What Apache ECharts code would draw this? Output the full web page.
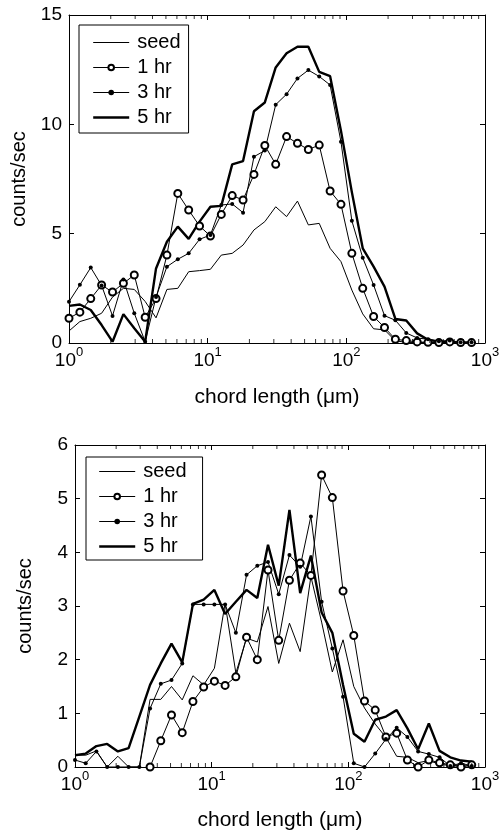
<!DOCTYPE html>
<html>
<head>
<meta charset="utf-8">
<script src="https://cdn.jsdelivr.net/npm/echarts@6/dist/echarts.min.js"></script>
<style>
  html, body { margin: 0; padding: 0; background: #fff; }
  #chart { width: 503px; height: 832px; }
</style>
</head>
<body>
<div id="chart"></div>
<script>
// chord length channels (um), log spaced
const chordLength = [1.000, 1.198, 1.435, 1.719, 2.060, 2.468, 2.956, 3.542, 4.243, 5.083,
  6.090, 7.295, 8.740, 10.47, 12.54, 15.03, 18.00, 21.57, 25.84, 30.95,
  37.08, 44.42, 53.22, 63.76, 76.38, 91.50, 109.6, 131.3, 157.3, 188.5,
  225.8, 270.5, 324.1, 388.2, 465.1, 557.2, 667.5, 799.7]

// top panel
const seedTop = [0.55, 0.98, 1.13, 1.36, 2.1, 2.5, 2.45, 1.9, 1.15, 2.45,
  2.5, 3.26, 3.31, 3.37, 4.02, 4.1, 4.48, 5.17, 5.55, 6.23,
  5.78, 6.49, 5.4, 5.47, 4.33, 3.72, 2.42, 1.33, 0.65, 0.6,
  0.1, 0.03, 0.02, 0.02, 0.02, 0.02, 0.02, 0.02]
const hr1Top = [1.13, 1.41, 2.03, 2.65, 2.33, 2.73, 3.11, 1.18, 2.03, 4.02,
  6.84, 6.08, 5.35, 4.89, 5.88, 6.74, 6.54, 7.71, 9.03, 8.17,
  9.44, 9.13, 8.85, 9.05, 6.95, 6.34, 4.1, 2.5, 1.21, 0.71,
  0.17, 0.11, 0.05, 0.03, 0.02, 0.05, 0.02, 0.02]
const hr3Top = [1.89, 2.66, 3.45, 2.63, 1.24, 2.9, 1.36, 0.06, 2.1, 3.49,
  3.83, 4.1, 4.74, 4.94, 6.31, 6.36, 5.96, 8.52, 8.8, 10.9,
  11.38, 12.1, 12.48, 12.19, 11.8, 9.2, 5.59, 3.9, 2.65, 1.25,
  1.04, 0.46, 0.23, 0.17, 0.08, 0.12, 0.03, 0.03]
const hr5Top = [1.7, 1.76, 1.51, 0.82, 0.06, 1.32, 0.67, 0.06, 3.41, 4.63,
  5.32, 4.76, 5.55, 6.23, 6.27, 8.17, 8.32, 10.6, 11.0, 12.6,
  13.25, 13.55, 13.55, 12.4, 12.2, 9.7, 6.9, 4.33, 3.49, 2.58,
  1.1, 1.03, 0.44, 0.15, 0.06, 0.04, 0.03, 0.03]

// bottom panel
const seedBot = [0.22, 0.22, 0.3, 0, 0.2, 0, 0, 1.26, 1.26, 1.5,
  1.25, 1.7, 1.53, 1.84, 3.05, 1.75, 2.4, 2.33, 2.99, 1.93,
  2.68, 2.15, 3.55, 2.7, 1.77, 2.37, 1.5, 1.1, 0.8, 0.55,
  0.2, 0.18, 0.08, 0.12, 0.05, 0.03, 0.02, 0.02]
const hr1Bot = [null, null, null, null, null, null, null, 0, 0.49, 0.97,
  0.64, 1.22, 1.49, 1.6, 1.52, 1.68, 2.42, 2.0, 3.67, 2.36,
  3.48, 3.8, 3.57, 5.44, 5.02, 3.28, 2.45, 1.23, 1.06, 0.56,
  0.63, 0.13, 0, 0.13, 0.08, 0.04, 0, 0.04]
const hr3Bot = [0.13, 0.07, 0.29, 0, 0, 0, 0, 1.09, 1.55, 1.62,
  1.93, 3.03, 3.03, 3.03, 3.03, 2.5, 3.58, 3.75, 3.82, 3.22,
  3.95, 3.73, 4.67, 3.08, 2.21, 1.31, 0.07, 0, 0.25, 0.52,
  0.73, 0.56, 0.29, 0.24, 0.18, 0.02, 0.07, 0.02]
const hr5Bot = [0.22, 0.25, 0.39, 0.43, 0.29, 0.35, 0.94, 1.53, 1.93, 2.3,
  1.95, 3.04, 3.12, 3.3, 2.85, 3.08, 3.3, 3.15, 4.14, 3.38,
  4.79, 3.24, 3.94, 2.88, 2.5, 1.53, 0.62, 0.47, 0.88, 0.94,
  1.06, 0.72, 0.33, 0.81, 0.3, 0.18, 0.12, 0.1]

const seriesNames = ['seed', '1 hr', '3 hr', '5 hr']
const lineWidths = [1, 1, 1, 2.4]
const xTickExp = ['0', '1', '2', '3']
const xMinorTicks = [2, 3, 4, 5, 6, 7, 8, 9, 20, 30, 40, 50, 60, 70, 80, 90,
  200, 300, 400, 500, 600, 700, 800, 900]

const FONT = 'Liberation Sans'
const axisLine = {show: true, onZero: false, lineStyle: {color: '#000', width: 1}}
const axisTick = {show: true, inside: true, length: 5, lineStyle: {color: '#000'}}

function pairs(ys) {
  return chordLength.map((x, i) => [x, ys[i]])
}

function xAxes(grid) {
  return [{
    type: 'log', logBase: 10, min: 1, max: 1000, gridIndex: grid,
    name: 'chord length (\u03bcm)', nameLocation: 'middle', nameGap: grid === 0 ? 44 : 43,
    nameTextStyle: {fontFamily: FONT, fontSize: 21, color: '#000'},
    axisLine: axisLine, axisTick: axisTick,
    splitLine: {show: false},
    axisLabel: {
      margin: 3,
      formatter: v => '{b|10}{s|' + xTickExp[Math.round(Math.log10(v))] + '}',
      rich: {
        b: {fontFamily: FONT, fontSize: 19, color: '#000', lineHeight: 24, verticalAlign: 'bottom'},
        s: {fontFamily: FONT, fontSize: 13, color: '#000', lineHeight: 13, verticalAlign: 'top'}
      }
    }
  }, {
    type: 'log', logBase: 10, min: 1, max: 1000, gridIndex: grid, position: 'top',
    axisLine: axisLine, axisTick: axisTick,
    axisLabel: {show: false},
    splitLine: {show: false}
  }]
}

function yAxes(grid, max, nameGap) {
  return [{
    type: 'value', min: 0, max: max, interval: grid === 0 ? 5 : 1, gridIndex: grid,
    name: 'counts/sec', nameLocation: 'middle', nameGap: nameGap, nameRotate: 90,
    nameTextStyle: {fontFamily: FONT, fontSize: 20, color: '#000'},
    axisLine: axisLine, axisTick: axisTick,
    axisLabel: {fontFamily: FONT, fontSize: 19, color: '#000', margin: 7},
    splitLine: {show: false}
  }, {
    type: 'value', min: 0, max: max, interval: grid === 0 ? 5 : 1, gridIndex: grid, position: 'right',
    axisLine: axisLine, axisTick: axisTick,
    axisLabel: {show: false},
    splitLine: {show: false}
  }]
}

function lineSeries(grid, data) {
  const xi = grid * 2, yi = grid * 2
  return [{
    name: seriesNames[0], type: 'line', xAxisIndex: xi, yAxisIndex: yi, data: pairs(data[0]),
    symbol: 'none', lineStyle: {color: '#000', width: lineWidths[0]}, itemStyle: {color: '#000'}
  }, {
    name: seriesNames[1], type: 'line', xAxisIndex: xi, yAxisIndex: yi, data: pairs(data[1]),
    symbol: 'emptyCircle', symbolSize: 7, showAllSymbol: true,
    lineStyle: {color: '#000', width: lineWidths[1]}, itemStyle: {color: '#000', borderColor: '#000', borderWidth: 1}
  }, {
    name: seriesNames[2], type: 'line', xAxisIndex: xi, yAxisIndex: yi, data: pairs(data[2]),
    symbol: 'circle', symbolSize: 4, showAllSymbol: true,
    lineStyle: {color: '#000', width: lineWidths[2]}, itemStyle: {color: '#000'}
  }, {
    name: seriesNames[3], type: 'line', xAxisIndex: xi, yAxisIndex: yi, data: pairs(data[3]),
    symbol: 'none', lineStyle: {color: '#000', width: lineWidths[3]}, itemStyle: {color: '#000'}
  }]
}

// minor ticks of the log axes (2..9 in each decade), bottom and top
function minorTicks(grid, max) {
  const base = {
    type: 'scatter', xAxisIndex: grid * 2, yAxisIndex: grid * 2, silent: true, clip: false,
    symbol: 'rect', itemStyle: {color: '#000'}, z: 5
  }
  return [
    Object.assign({}, base, {data: xMinorTicks.map(v => [v, 0]), symbolSize: [1, 4], symbolOffset: [0, -2]}),
    Object.assign({}, base, {data: xMinorTicks.map(v => [v, max]), symbolSize: [1, 4], symbolOffset: [0, 2]})
  ]
}

function legend(left, top, pad) {
  return {
    show: true, orient: 'vertical', left: left, top: top,
    data: seriesNames.map((n, i) => {
      const item = {name: n, lineStyle: {width: lineWidths[i], color: '#000'}}
      if (n === 'seed' || n === '5 hr') item.itemStyle = {color: 'rgba(0,0,0,0)', borderWidth: 0}
      return item
    }),
    backgroundColor: '#fff', borderColor: '#000', borderWidth: 1, borderRadius: 0,
    padding: pad, itemGap: 0, itemWidth: 36, itemHeight: 7,
    textStyle: {fontFamily: FONT, fontSize: 20, color: '#000', lineHeight: 25, padding: [0, 0, 0, 3]},
    selectedMode: false
  }
}

const chart = echarts.init(document.getElementById('chart'), null, {renderer: 'canvas'})
chart.setOption({
  animation: false,
  backgroundColor: '#fff',
  grid: [
    {left: 69, top: 15, width: 416, height: 328},
    {left: 75, top: 445, width: 410, height: 322}
  ],
  legend: [
    legend(79, 25, [5, 8, 3, 13]),
    legend(86, 457, [2, 16, 1, 12])
  ],
  xAxis: xAxes(0).concat(xAxes(1)),
  yAxis: yAxes(0, 15, 37).concat(yAxes(1, 6, 40)),
  series: lineSeries(0, [seedTop, hr1Top, hr3Top, hr5Top])
    .concat(lineSeries(1, [seedBot, hr1Bot, hr3Bot, hr5Bot]))
    .concat(minorTicks(0, 15))
    .concat(minorTicks(1, 6))
})
</script>
</body>
</html>
